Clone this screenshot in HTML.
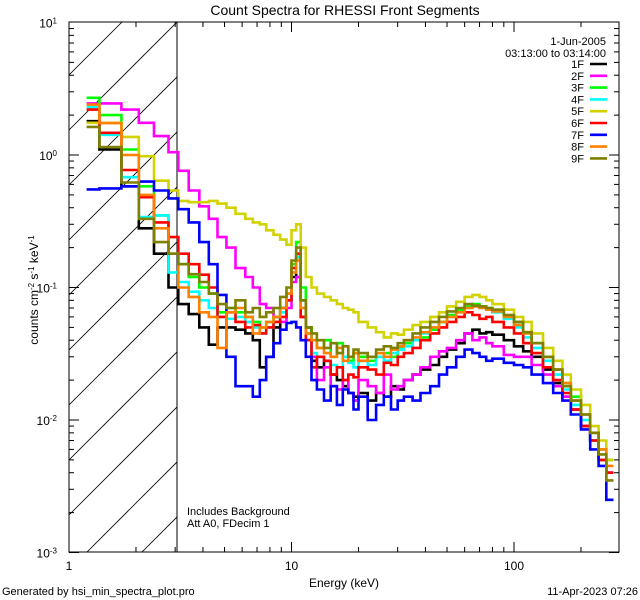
<!DOCTYPE html>
<html><head><meta charset="utf-8"><style>
html,body{margin:0;padding:0;background:#fff;width:640px;height:600px;overflow:hidden;}
svg{display:block;font-family:"Liberation Sans",sans-serif;}
</style></head><body>
<svg id="chart" width="640" height="600" viewBox="0 0 640 600">
<defs>
<clipPath id="plotclip"><rect x="69" y="22" width="550" height="530"/></clipPath>
<clipPath id="hatchclip"><rect x="69" y="22" width="108" height="530"/></clipPath>
</defs>
<rect width="640" height="600" fill="#fff"/>
<text x="345" y="15" text-anchor="middle" font-size="14">Count Spectra for RHESSI Front Segments</text>
<g id="hatch" clip-path="url(#hatchclip)"></g>
<line x1="177" y1="22" x2="177" y2="552" stroke="#000" stroke-width="1"/>
<g id="series" clip-path="url(#plotclip)"></g>
<rect x="69" y="22" width="550" height="530" fill="none" stroke="#000" stroke-width="1"/>
<g id="axes"></g>
<text transform="translate(38,290) rotate(-90)" text-anchor="middle" font-size="12">counts cm<tspan baseline-shift="super" font-size="8">-2</tspan> s<tspan baseline-shift="super" font-size="8">-1</tspan> keV<tspan baseline-shift="super" font-size="8">-1</tspan></text>
<text x="344" y="587" text-anchor="middle" font-size="12">Energy (keV)</text>
<text x="606" y="45" text-anchor="end" font-size="11">1-Jun-2005</text>
<text x="606" y="57" text-anchor="end" font-size="11">03:13:00 to 03:14:00</text>
<g id="legend"></g>
<text x="187" y="515" font-size="11">Includes Background</text>
<text x="187" y="527" font-size="11">Att A0, FDecim 1</text>
<text x="2" y="595" font-size="11">Generated by hsi_min_spectra_plot.pro</text>
<text x="638" y="595" text-anchor="end" font-size="11">11-Apr-2023 07:26</text>
</svg>
<script>
const energyEdges=[1.2,1.37,1.72,2.06,2.41,2.8,3.1,3.45,3.85,4.25,4.65,5.1,5.6,6.2,6.7,7.2,7.7,8.3,8.9,9.5,10.0,10.5,11.0,11.6,12.3,13,14,15,16,17,18,19,20,22,24,26,28,30,32,35,38,42,46,50,55,60,65,70,75,80,90,100,110,120,135,150,165,180,200,220,240,260,280];
const seriesNames=["1F","2F","3F","4F","5F","6F","7F","8F","9F"];
const s1F=[1.8,1.1,0.58,0.28,0.18,0.1,0.075,0.063,0.05,0.037,0.05,0.05,0.048,0.045,0.04,0.025,0.03,0.05,0.07,0.08,0.12,0.17,0.08,0.05,0.028,0.025,0.028,0.022,0.02,0.018,0.016,0.015,0.016,0.014,0.016,0.015,0.018,0.017,0.02,0.022,0.024,0.026,0.03,0.034,0.038,0.045,0.048,0.045,0.046,0.044,0.04,0.036,0.033,0.03,0.024,0.019,0.015,0.012,0.009,0.007,0.005,0.004];
const s2F=[2.45,2.45,2.2,1.75,1.39,1.05,0.76,0.54,0.41,0.33,0.24,0.2,0.14,0.12,0.1,0.075,0.07,0.06,0.055,0.07,0.11,0.12,0.06,0.04,0.03,0.02,0.025,0.018,0.017,0.02,0.016,0.014,0.02,0.018,0.016,0.022,0.017,0.018,0.02,0.022,0.025,0.03,0.033,0.035,0.04,0.045,0.04,0.042,0.038,0.036,0.031,0.03,0.03,0.026,0.022,0.018,0.015,0.012,0.009,0.007,0.005,0.004];
const s3F=[2.7,2.0,1.1,0.58,0.35,0.18,0.15,0.12,0.1,0.09,0.065,0.07,0.065,0.06,0.055,0.05,0.055,0.06,0.07,0.09,0.15,0.22,0.1,0.05,0.04,0.035,0.04,0.03,0.038,0.03,0.028,0.032,0.03,0.028,0.03,0.032,0.03,0.035,0.038,0.04,0.042,0.048,0.055,0.062,0.068,0.072,0.075,0.072,0.07,0.068,0.06,0.055,0.045,0.038,0.03,0.024,0.019,0.015,0.011,0.008,0.006,0.005];
const s4F=[2.3,1.42,0.68,0.34,0.35,0.13,0.11,0.093,0.08,0.07,0.06,0.058,0.06,0.055,0.05,0.045,0.05,0.055,0.065,0.08,0.13,0.17,0.07,0.045,0.032,0.03,0.028,0.026,0.025,0.03,0.027,0.025,0.028,0.026,0.03,0.028,0.032,0.034,0.036,0.04,0.045,0.05,0.055,0.06,0.065,0.07,0.072,0.07,0.068,0.065,0.058,0.05,0.042,0.035,0.028,0.022,0.017,0.013,0.01,0.007,0.005,0.004];
const s5F=[1.75,1.75,1.37,0.98,0.64,0.54,0.45,0.44,0.44,0.45,0.43,0.4,0.36,0.33,0.31,0.3,0.27,0.25,0.23,0.21,0.27,0.3,0.2,0.12,0.1,0.09,0.085,0.08,0.075,0.07,0.068,0.065,0.055,0.05,0.046,0.042,0.045,0.044,0.048,0.052,0.055,0.06,0.065,0.072,0.078,0.085,0.088,0.085,0.08,0.075,0.068,0.06,0.055,0.045,0.035,0.028,0.022,0.017,0.013,0.009,0.007,0.005];
const s6F=[2.2,1.47,0.77,0.48,0.31,0.24,0.18,0.15,0.125,0.1,0.06,0.065,0.055,0.05,0.052,0.045,0.05,0.055,0.06,0.08,0.14,0.18,0.06,0.04,0.025,0.03,0.028,0.022,0.025,0.02,0.022,0.021,0.025,0.024,0.022,0.027,0.026,0.03,0.032,0.035,0.04,0.045,0.05,0.055,0.06,0.065,0.062,0.058,0.06,0.055,0.05,0.045,0.038,0.032,0.025,0.02,0.016,0.012,0.009,0.007,0.005,0.004];
const s7F=[0.55,0.56,0.58,0.63,0.54,0.47,0.39,0.31,0.22,0.15,0.088,0.03,0.018,0.018,0.015,0.02,0.03,0.038,0.048,0.054,0.055,0.05,0.04,0.03,0.02,0.017,0.014,0.018,0.013,0.017,0.016,0.012,0.015,0.01,0.013,0.015,0.012,0.014,0.015,0.014,0.016,0.018,0.022,0.025,0.03,0.034,0.032,0.03,0.028,0.029,0.027,0.026,0.025,0.022,0.019,0.016,0.014,0.011,0.0085,0.006,0.0045,0.0025];
const s8F=[2.4,1.74,1.0,0.5,0.28,0.18,0.1,0.085,0.065,0.06,0.035,0.065,0.07,0.06,0.045,0.05,0.055,0.06,0.07,0.09,0.13,0.16,0.07,0.045,0.04,0.035,0.032,0.03,0.035,0.028,0.03,0.032,0.028,0.03,0.032,0.03,0.034,0.036,0.04,0.042,0.046,0.05,0.055,0.06,0.065,0.07,0.072,0.07,0.068,0.066,0.06,0.052,0.045,0.038,0.03,0.024,0.019,0.014,0.011,0.008,0.006,0.0045];
const s9F=[1.63,1.15,0.62,0.33,0.22,0.18,0.15,0.126,0.11,0.09,0.075,0.07,0.08,0.065,0.07,0.06,0.065,0.07,0.085,0.1,0.16,0.2,0.08,0.05,0.045,0.04,0.035,0.038,0.032,0.036,0.03,0.034,0.032,0.03,0.034,0.036,0.035,0.038,0.04,0.045,0.05,0.055,0.06,0.066,0.07,0.075,0.073,0.072,0.07,0.068,0.062,0.055,0.046,0.038,0.03,0.024,0.018,0.014,0.011,0.008,0.0055,0.0035];
const xTickValues=[1,10,100];
const xTickLabels=["1","10","100"];
const yTickExponents=[1,0,-1,-2,-3];

const NS="http://www.w3.org/2000/svg";
const X0=69, XDEC=222.5, Y0=155, YDEC=132.5;
function xs(e){return X0+XDEC*Math.log10(e);}
function ys(v){return Y0-YDEC*Math.log10(v);}
const colors=["#000000","#ff00ff","#00ff00","#00ffff","#d2d200","#ff0000","#0000ff","#ff8000","#808000"];
const allSeries=[s1F,s2F,s3F,s4F,s5F,s6F,s7F,s8F,s9F];
function mk(tag,attrs,parent){const el=document.createElementNS(NS,tag);for(const k in attrs)el.setAttribute(k,attrs[k]);parent.appendChild(el);return el;}

const hatch=document.getElementById('hatch');
for(let c=-200;c<800;c+=55){
  const ln=mk('line',{x1:69,y1:c,x2:69+600,y2:c-600,stroke:'#000','stroke-width':0.8},hatch);
  
  
}

const sg=document.getElementById('series');
allSeries.forEach((vals,si)=>{
  let d='M'+xs(energyEdges[0]).toFixed(1)+','+ys(vals[0]).toFixed(1);
  for(let i=0;i<vals.length;i++){
    if(i>0)d+='V'+ys(vals[i]).toFixed(1);
    d+='H'+xs(energyEdges[i+1]).toFixed(1);
  }
  const p=mk('path',{d:d,fill:'none',stroke:colors[si],'stroke-width':2.6,'stroke-linejoin':'miter'},sg);
  
  
});

const ax=document.getElementById('axes');
for(let dec=0;dec<3;dec++){
  for(let m=1;m<=9;m++){
    const e=m*Math.pow(10,dec);
    const x=xs(e);
    if(x<69||x>619)continue;
    const len=(m===1)?10:5;
    const t1=mk('line',{x1:x,y1:552,x2:x,y2:552-len,stroke:'#000'},ax);
    
    
    const t2=mk('line',{x1:x,y1:22,x2:x,y2:22+len,stroke:'#000'},ax);
    
    
  }
}
xTickValues.forEach((v,i)=>{
  const t=mk('text',{x:xs(v),y:570,'text-anchor':'middle','font-size':12},ax);
  t.textContent=xTickLabels[i];
  
  
});
for(let ex=-3;ex<1;ex++){
  for(let m=1;m<=9;m++){
    const y=ys(m*Math.pow(10,ex));
    const len=(m===1)?10:5;
    const a=mk('line',{x1:69,y1:y,x2:69+len,y2:y,stroke:'#000'},ax);
    
    
    const b=mk('line',{x1:619,y1:y,x2:619-len,y2:y,stroke:'#000'},ax);
    
    
  }
}
yTickExponents.forEach(ex=>{
  const y=ys(Math.pow(10,ex));
  const t=mk('text',{x:57,y:y+5,'text-anchor':'end','font-size':12},ax);
  t.textContent='10';
  const sup=mk('tspan',{'baseline-shift':'super','font-size':8},t);
  sup.textContent=String(ex);
  
  
});

const lg=document.getElementById('legend');
seriesNames.forEach((n,i)=>{
  const y=64+i*11.8;
  const t=mk('text',{x:584,y:y+4,'text-anchor':'end','font-size':11},lg);
  t.textContent=n;
  
  
  const l=mk('line',{x1:590,y1:y,x2:607,y2:y,stroke:colors[i],'stroke-width':2.6},lg);
  
  
});
</script>
</body></html>
